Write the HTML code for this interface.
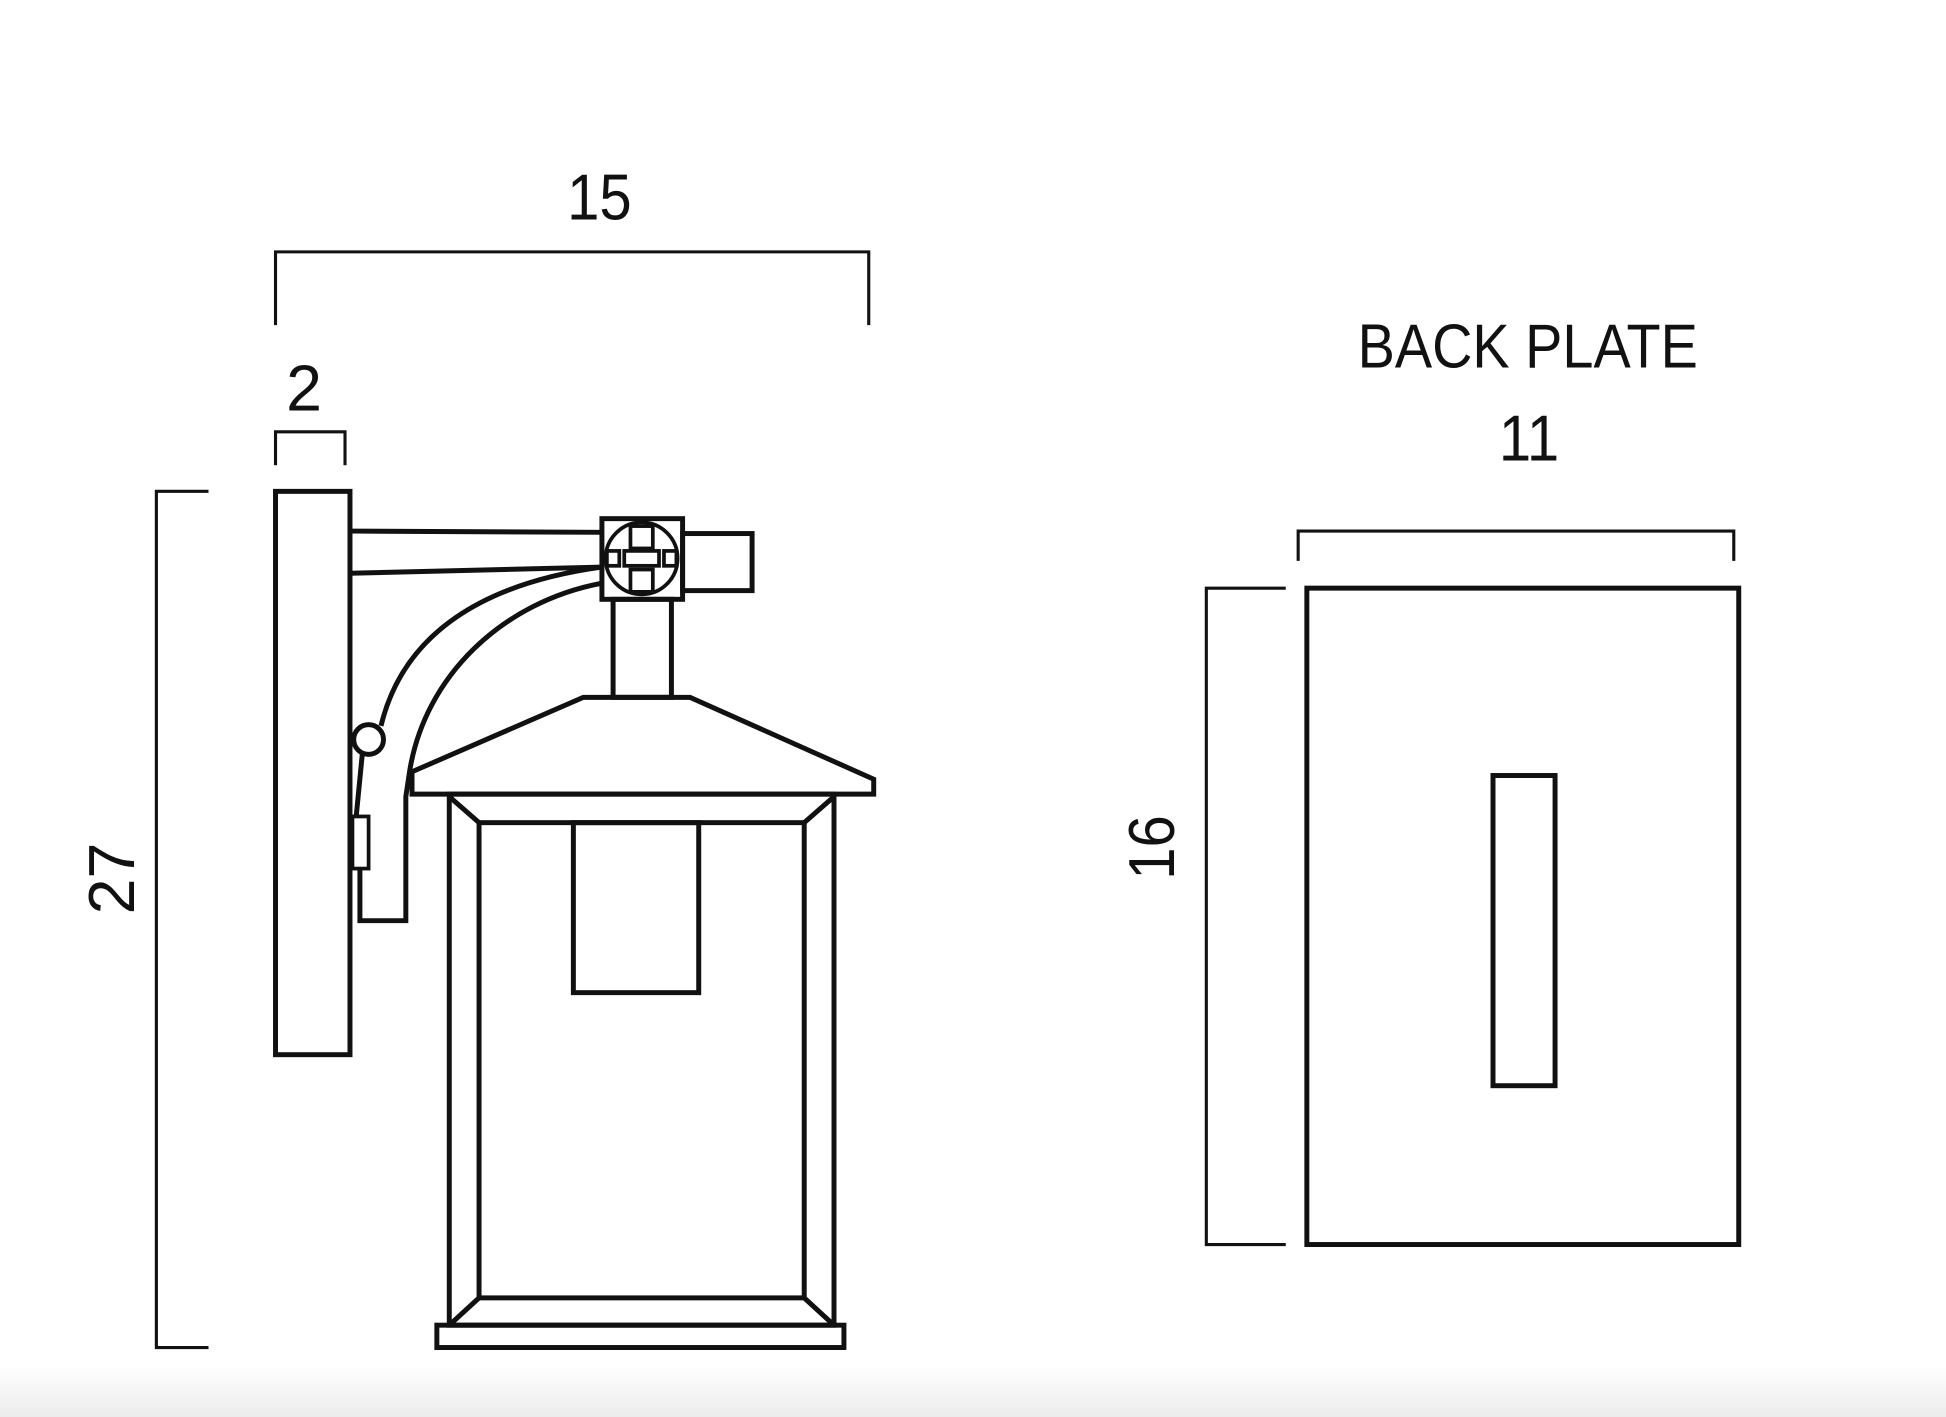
<!DOCTYPE html>
<html><head><meta charset="utf-8"><style>
html,body{margin:0;padding:0;background:#fff;}
svg{display:block;}
text{font-family:"Liberation Sans",sans-serif;fill:#111;}
</style></head><body>
<svg width="1946" height="1417" viewBox="0 0 1568 1142" preserveAspectRatio="none" xmlns="http://www.w3.org/2000/svg">
<defs><linearGradient id="g" x1="0" y1="0" x2="0" y2="1"><stop offset="0" stop-color="#fff"/><stop offset="1" stop-color="#ececec"/></linearGradient></defs>
<rect x="0" y="0" width="1568" height="1142" fill="#fff"/>
<rect x="0" y="1100" width="1568" height="42" fill="url(#g)"/>
<g fill="none" stroke="#111" stroke-width="2.5">
<polyline points="222,262 222,203 700,203 700,262"/>
<polyline points="222,375 222,348 278,348 278,375"/>
<polyline points="168,396 126,396 126,1086 168,1086"/>
<polyline points="1046,452 1046,428 1397,428 1397,452"/>
<polyline points="1036,474 972,474 972,1003 1036,1003"/>
</g>
<g font-size="52" text-anchor="middle">
<text x="483" y="177" transform="translate(48.3,0) scale(0.9,1)">15</text>
<text x="245" y="331">2</text>
<text transform="translate(108,708) rotate(-90)">27</text>
<text x="1232" y="371" transform="translate(123.2,0) scale(0.9,1)">11</text>
<text transform="translate(946,683) rotate(-90) scale(0.9,1)">16</text>
<text x="1231" y="296" font-size="50" transform="translate(123.1,0) scale(0.9,1)">BACK PLATE</text>
</g>
<g fill="none" stroke="#111" stroke-width="4" stroke-linejoin="miter">
<rect x="222" y="396" width="60" height="454"/>
<line x1="282" y1="428" x2="485" y2="429"/>
<line x1="282" y1="462" x2="485" y2="457"/>
<rect x="550" y="430" width="56" height="46"/>
<rect x="485" y="418" width="65" height="65"/>
<circle cx="517" cy="450" r="29" stroke-width="3"/>
<rect x="508" y="424" width="18" height="18" stroke-width="3"/>
<rect x="508" y="459" width="18" height="18" stroke-width="3"/>
<rect x="503" y="444" width="28" height="12" stroke-width="3"/>
<rect x="489" y="444" width="10" height="12" stroke-width="3"/>
<rect x="535" y="444" width="10" height="12" stroke-width="3"/>
<rect x="494" y="483" width="47" height="79"/>
<path d="M485,457 C390,470 325,510 307,585"/>
<circle cx="297" cy="596" r="12"/>
<path d="M292,607 L287,658"/>
<rect x="284" y="658" width="13" height="42" stroke-width="3"/>
<path d="M485,470 C405,485 342,545 330,622 L327,642 L327,742 L290,742 L290,700"/>
<polygon points="470,562 556,562 704,628 704,640 332,640 332,622"/>
<rect x="362" y="640" width="310" height="428"/>
<rect x="386" y="663" width="262" height="383"/>
<line x1="362" y1="642" x2="386" y2="663"/>
<line x1="672" y1="642" x2="648" y2="663"/>
<line x1="362" y1="1068" x2="386" y2="1046"/>
<line x1="672" y1="1068" x2="648" y2="1046"/>
<rect x="352" y="1068" width="328" height="18"/>
<rect x="462" y="663" width="101" height="137"/>
<rect x="1053" y="474" width="348" height="529"/>
<rect x="1203" y="625" width="50" height="250"/>
</g>
</svg>
</body></html>
